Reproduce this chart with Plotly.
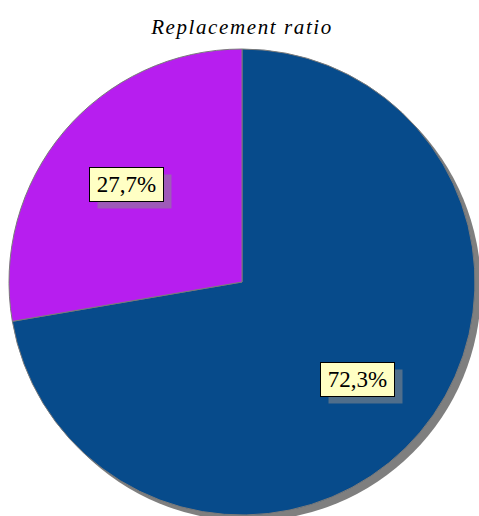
import math
import plotly.graph_objects as go

# ---- data ----
labels = ["Replaced", "Not replaced"]
values = [72.3, 27.7]
colors = ["#074b8b", "#b71eef"]
title_text = "Replacement ratio"

W, H = 479, 516
# pie domain in pixels (left, right, top, bottom)
PL, PR, PT, PB = 9, 475, 48, 516
SHADOW = (6, 6)

dom_x = [PL / W, PR / W]
dom_y = [1 - PB / H, 1 - PT / H]
cx, cy = (PL + PR) / 2, (PT + PB) / 2
rad = min(PR - PL, PB - PT) / 2

fig = go.Figure()
fig.add_trace(go.Pie(
    labels=labels, values=values, sort=False, direction="clockwise", rotation=0,
    marker=dict(colors=colors, line=dict(color="#7a7a7a", width=1)),
    textinfo="none", hoverinfo="label+percent", showlegend=False,
    domain=dict(x=dom_x, y=dom_y),
))

# shadow circle behind the pie
fig.add_shape(type="circle", xref="paper", yref="paper", layer="below",
              x0=(cx - rad + SHADOW[0]) / W, x1=(cx + rad + SHADOW[0]) / W,
              y0=1 - (cy + rad + SHADOW[1]) / H, y1=1 - (cy - rad + SHADOW[1]) / H,
              fillcolor="#7f7f7f", line=dict(width=0))

# percentage labels with boxes and shadows
total = sum(values)
cum = 0.0
for v in values:
    mid = (cum + v / 2) / total * 2 * math.pi  # clockwise from 12 o'clock
    cum += v
    lx = cx + 0.648 * rad * math.sin(mid)
    ly = cy - 0.648 * rad * math.cos(mid)
    txt = f"{v:.1f}%".replace(".", ",")
    common = dict(xref="paper", yref="paper", x=lx / W, y=1 - ly / H,
                  xanchor="center", yanchor="middle",
                  showarrow=False, width=73, height=33, borderpad=0, borderwidth=1,
                  font=dict(family="Liberation Serif, Times New Roman, serif", size=23, color="black"))
    fig.add_annotation(text=" ", bgcolor="rgba(140,140,140,0.55)", bordercolor="rgba(0,0,0,0)",
                       xshift=8, yshift=-7, **common)
    fig.add_annotation(text=txt, bgcolor="#ffffc4", bordercolor="black", **common)

fig.update_layout(
    width=W, height=H,
    margin=dict(l=0, r=0, t=0, b=0),
    paper_bgcolor="white", plot_bgcolor="white",
    title=dict(text='<span style="letter-spacing:1.6px">' + title_text + '</span>',
               x=242 / W, xanchor="center", y=1 - 27 / H, yanchor="middle",
               font=dict(family="Liberation Serif, Times New Roman, serif", size=21,
                         style="italic", color="black")),
)

fig.write_html("out.html", config={"displayModeBar": False},
               post_script="document.body.style.margin='0';document.body.style.overflow='hidden';")
